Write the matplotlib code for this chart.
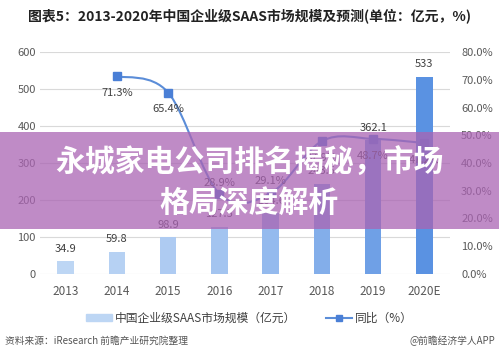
import numpy as np
import matplotlib.pyplot as plt
from matplotlib.path import Path
from matplotlib.patches import PathPatch, Rectangle
from matplotlib.lines import Line2D
from matplotlib.patches import Patch

plt.rcParams['font.family'] = ['Noto Sans CJK SC', 'DejaVu Sans']

years = ['2013', '2014', '2015', '2016', '2017', '2018', '2019', '2020E']
scale = [34.9, 59.8, 98.9, 127.5, 164.6, 243.5, 362.1, 533]
growth_years = [1, 2, 3, 4, 5, 6, 7]   # index in years
growth = [71.3, 65.4, 28.9, 29.1, 47.9, 48.7, 47.2]

bar_colors = ['#BDD6F4', '#B6D1F3', '#AECBF2', '#A3C4F0', '#94BAEE', '#83AEEA', '#6FA0E6', '#5A92E2']
label_dy = [-12, -12, 8, 9, -12, -12, -12]   # points, line labels

fig = plt.figure(figsize=(4.99, 3.63), dpi=100)
ax = fig.add_axes([0.0802, 0.2452, 0.8216, 0.6115])
ax2 = ax.twinx()

x = np.arange(len(years))
ax.bar(x, scale, width=0.32, color=bar_colors, zorder=2)
for xi, v in zip(x, scale):
    ax.annotate(f'{v:g}', (xi, v), xytext=(0, 9), textcoords='offset points',
                ha='center', va='center', fontsize=8, color='#404040')

ax.set_xlim(-0.5, len(years) - 0.5)
ax.set_ylim(0, 600)
ax.set_yticks(range(0, 601, 100))
ax.grid(axis='y', color='#D9D9D9', linewidth=0.8, zorder=0)
ax.set_axisbelow(True)
for s in ax.spines.values():
    s.set_visible(False)
for s in ax2.spines.values():
    s.set_visible(False)
ax.tick_params(length=0, labelsize=8, labelcolor='#595959', pad=3)
ax.tick_params(axis='x', pad=8, labelsize=8.5)
ax.set_xticks(x)
ax.set_xticklabels(years)

ax2.set_ylim(0, 80)
ax2.set_yticks(range(0, 81, 10))
ax2.set_yticklabels([f'{t:.1f}%' for t in range(0, 81, 10)])
ax2.tick_params(length=0, labelsize=8, labelcolor='#595959', pad=8)

# smoothed line (Catmull-Rom style bezier through the points)
gx = np.array(growth_years, dtype=float)
gy = np.array(growth, dtype=float)
pts = np.column_stack([gx, gy])
verts = [pts[0]]
codes = [Path.MOVETO]
n = len(pts)
for i in range(n - 1):
    p0 = pts[i - 1] if i > 0 else pts[i]
    p1 = pts[i]
    p2 = pts[i + 1]
    p3 = pts[i + 2] if i + 2 < n else pts[i + 1]
    c1 = p1 + (p2 - p0) / 6
    c2 = p2 - (p3 - p1) / 6
    verts += [c1, c2, p2]
    codes += [Path.CURVE4] * 3
ax2.add_patch(PathPatch(Path(verts, codes), fill=False, edgecolor='#5B8DD8', lw=1.5, zorder=3))
ax2.plot(gx, gy, linestyle='none', marker='s', markersize=6, color='#4A7FD6', zorder=4)
for xi, v, dy in zip(gx, gy, label_dy):
    ax2.annotate(f'{v:.1f}%', (xi, v), xytext=(0, dy), textcoords='offset points',
                 ha='center', va='center', fontsize=8, color='#404040')

fig.text(0.5, 0.956, '图表5：2013-2020年中国企业级SAAS市场规模及预测(单位：亿元，%)',
         ha='center', va='center', fontsize=10, fontweight='bold', color='#222222')

handles = [Patch(color='#BDD6F4'),
           Line2D([0], [0], color='#5B8DD8', lw=1.5, marker='s', markersize=5,
                  markerfacecolor='#4A7FD6', markeredgecolor='#4A7FD6')]
fig.legend(handles, ['中国企业级SAAS市场规模（亿元）', '同比（%）'], loc='center',
           bbox_to_anchor=(0.5, 0.124), ncol=2, frameon=False, fontsize=8.5,
           labelcolor='#404040', handlelength=2.2, handleheight=0.5, columnspacing=2.5,
           handletextpad=0.3)

fig.text(0.01, 0.061, '资料来源：iResearch 前瞻产业研究院整理', ha='left', va='center',
         fontsize=7, color='#555555')
fig.text(0.992, 0.061, '@前瞻经济学人APP', ha='right', va='center', fontsize=7, color='#555555')

# overlay banner
fig.patches.append(Rectangle((0, 1 - 229 / 363), 1, 97 / 363, transform=fig.transFigure,
                             facecolor='#AA64B3', alpha=0.75, edgecolor='none', zorder=10))
fig.text(0.5, 1 - 163 / 363, '永城家电公司排名揭秘，市场', ha='center', va='center',
         fontsize=21.5, fontweight='bold', color='white', zorder=11)
fig.text(0.5, 1 - 203 / 363, '格局深度解析', ha='center', va='center',
         fontsize=21.5, fontweight='bold', color='white', zorder=11)

fig.savefig('out.png', dpi=100)
